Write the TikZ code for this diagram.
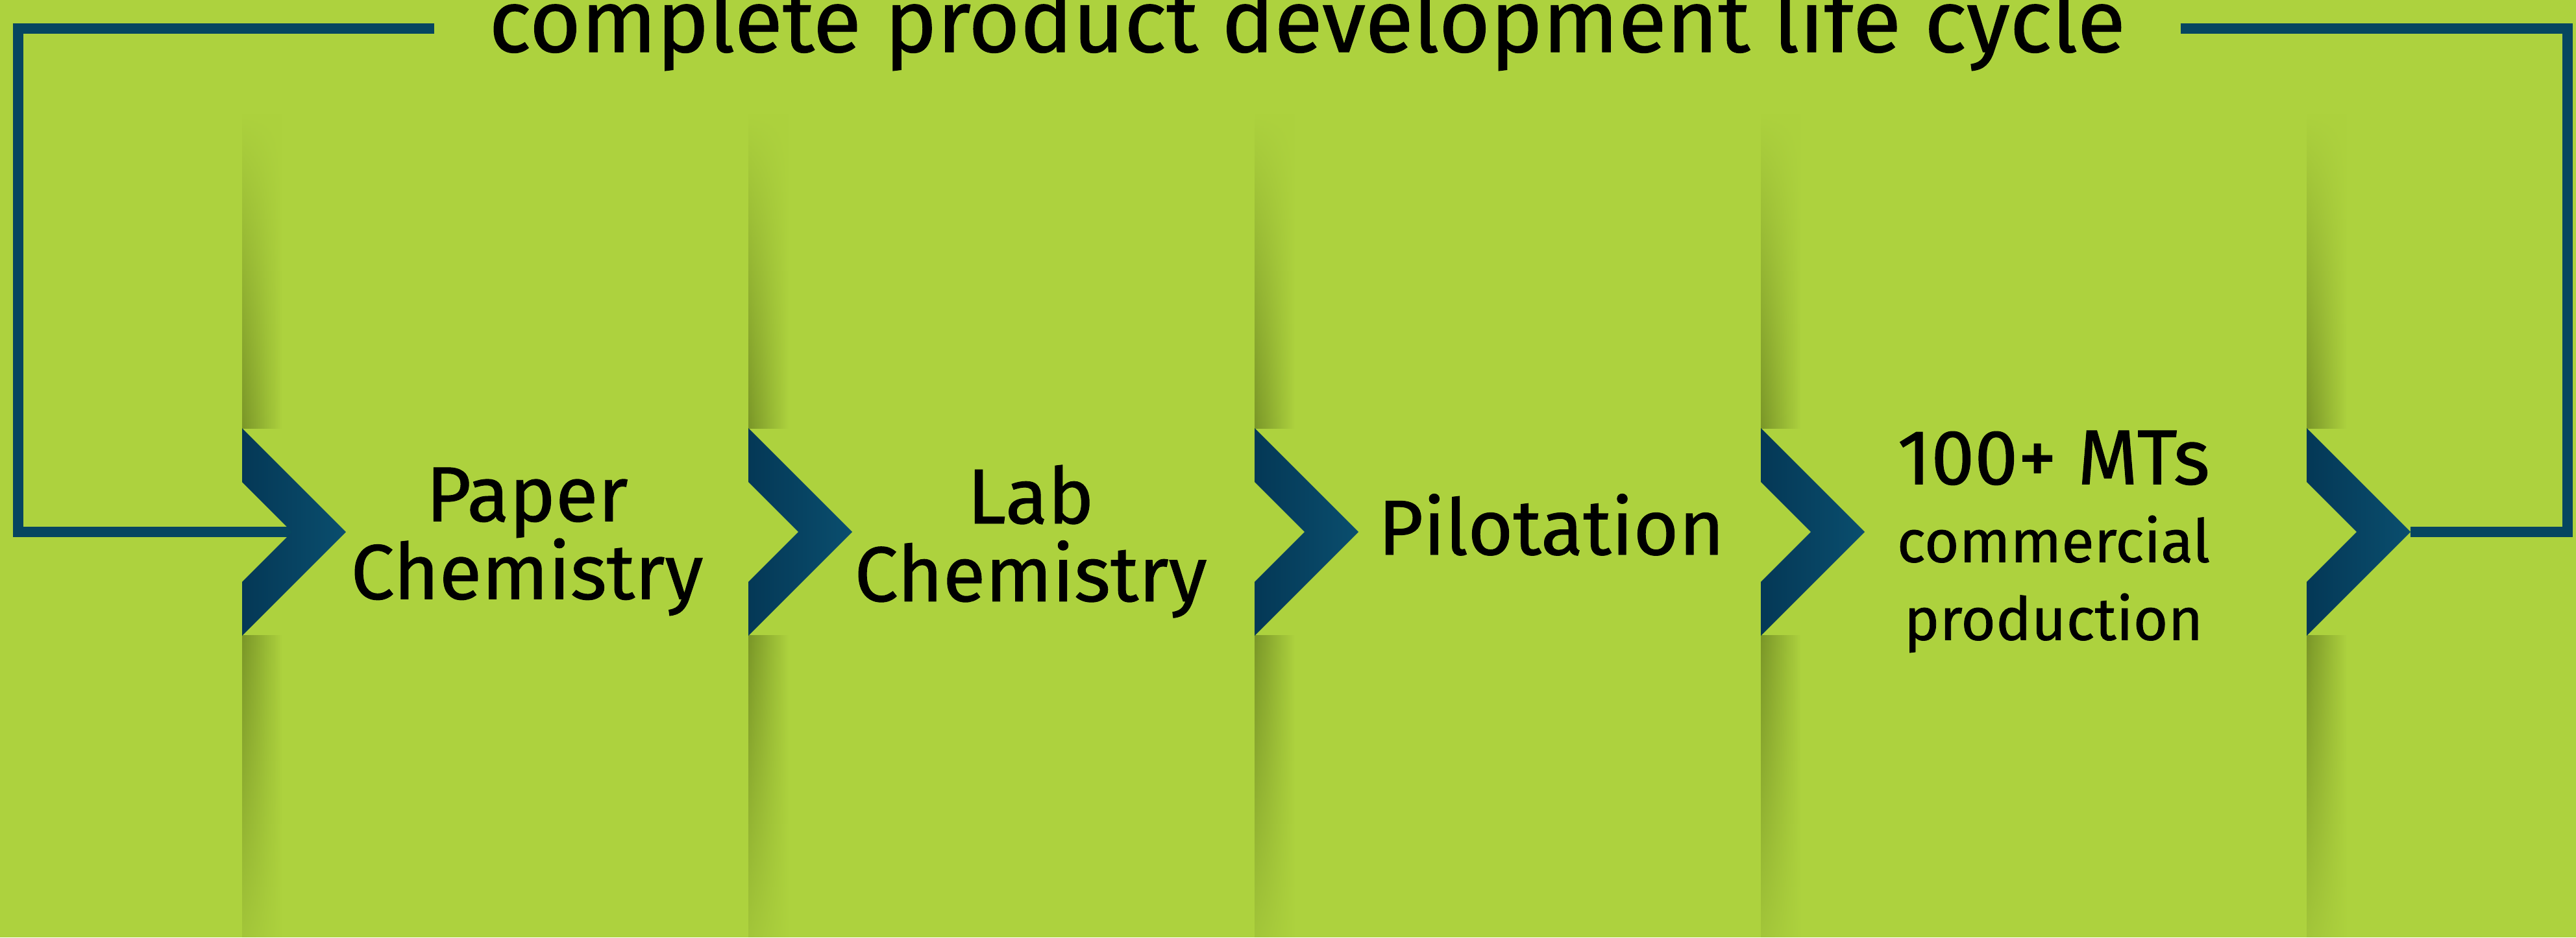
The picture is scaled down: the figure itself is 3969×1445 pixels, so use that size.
\documentclass[tikz,border=0pt]{standalone}
\usepackage{fontspec}
\setmainfont{Fira Sans}[UprightFeatures={FakeBold=0.8}]
\usetikzlibrary{fadings}

\definecolor{leafgreen}{RGB}{173,210,62}
\definecolor{foldgreen}{RGB}{122,150,40}
\definecolor{chevdark}{RGB}{4,56,86}
\definecolor{chevlight}{RGB}{10,78,110}
\definecolor{loopblue}{RGB}{6,70,96}

\tikzfading[name=foldtop, top color=transparent!100, bottom color=transparent!0]
\tikzfading[name=foldlow, top color=transparent!0, bottom color=transparent!80]

\tikzset{
  loopline/.style={draw=loopblue, line width=4.2pt},
  chevron/.style={left color=chevdark, right color=chevlight},
  fold/.style={left color=foldgreen, right color=leafgreen},
  stage/.style={font=\fontsize{30}{30}\selectfont, align=center, inner sep=0pt, text=black},
}

\begin{document}
\begin{tikzpicture}[x=0.25pt, y=-0.25pt]
    % Background
    \fill[leafgreen] (0,0) rectangle (3969,1445);
    \useasboundingbox (0,0) rectangle (3969,1445);

    % Fold shadows of the panels
    \foreach \x/\n in {373/1, 1153/2, 1933/3, 2713/4, 3554/5} {
        \shade[fold, path fading=foldtop] (\x,175) rectangle ++(62,485);
        \shade[fold, path fading=foldlow] (\x,980) rectangle ++(62,465);
        \coordinate (n\n) at (\x+77,820);
        \coordinate (t\n) at (\x+160,820);
    }

    % Title
    \node[font=\fontsize{34}{34}\selectfont, inner xsep=21pt, inner ysep=0pt, anchor=base] (title) at (2014,80) {complete product development life cycle};

    % Loop back line
    \coordinate (tl) at (28,44);
    \coordinate (tr) at (3956,44);
    \draw[loopline] (title.west |- tl) -- (tl) |- (n1);
    \draw[loopline] (title.east |- tr) -- (tr) |- (t5);

    % Chevrons
    \foreach \x in {373, 1153, 1933, 2713, 3554} {
        \shade[chevron] (\x,660) -- ++(160,160) -- ++(-160,160) -- ++(0,-83) -- ++(77,-77) -- ++(-77,-77) -- cycle;
    }

    % Stages
    \node[stage, anchor=north] (paper) at (812,720) {Paper\\Chemistry};
    \node[stage, anchor=north] (lab) at (1588,716) {Lab\\Chemistry};
    \node[stage, anchor=base] (pilot) at (2390,855) {Pilotation};
    \node[stage, anchor=north] (mts) at (3164,663) {{\fontsize{30}{30}\selectfont 100+ MTs}\\{\fontsize{23}{30}\selectfont commercial}\\{\fontsize{23}{30}\selectfont production}};

\end{tikzpicture}
\end{document}
